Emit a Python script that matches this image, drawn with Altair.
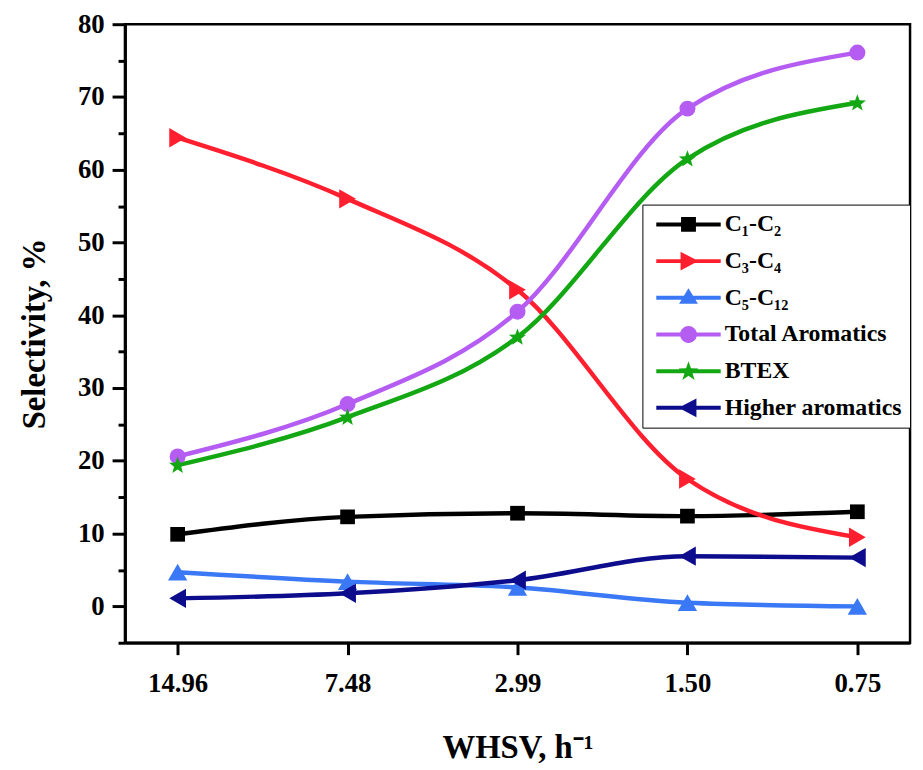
import math
import altair as alt
import pandas as pd

# ---- data ----
whsv = ["14.96", "7.48", "2.99", "1.50", "0.75"]
series_names = ["C₁-C₂", "C₃-C₄", "C₅-C₁₂", "Total Aromatics", "BTEX", "Higher aromatics"]
c1_c2 = [9.9, 12.3, 12.8, 12.4, 13.0]
c3_c4 = [64.4, 56.0, 43.5, 17.5, 9.5]
c5_c12 = [4.7, 3.4, 2.6, 0.5, 0.0]
total_arom = [20.6, 27.8, 40.5, 68.4, 76.1]
btex = [19.4, 26.0, 37.0, 61.5, 69.2]
higher_arom = [1.1, 1.8, 3.6, 6.9, 6.7]
values = [c1_c2, c3_c4, c5_c12, total_arom, btex, higher_arom]
major_ticks = list(range(0, 81, 10))
minor_ticks = list(range(-5, 80, 10))

colors = ["#000000", "#ff1f2f", "#3a78f5", "#b55cf2", "#13a813", "#0c0c8c"]

rows = []
for name, vals in zip(series_names, values):
    for w, v in zip(whsv, vals):
        rows.append({"WHSV": w, "series": name, "value": v})
df = pd.DataFrame(rows)


# ---- marker shapes ----
def orient_ok(pts):
    a = 0.0
    for i in range(len(pts)):
        x1, y1 = pts[i]
        x2, y2 = pts[(i + 1) % len(pts)]
        a += x1 * y2 - x2 * y1
    return pts if a > 0 else pts[::-1]


def poly(pts):
    pts = orient_ok(pts)
    return "M" + " L".join(f"{x:.3f},{y:.3f}" for x, y in pts) + " Z"


def star_pts(cx, cy, R, r):
    pts = []
    for k in range(10):
        ang = -math.pi / 2 + k * math.pi / 5
        rad = R if k % 2 == 0 else r
        pts.append((cx + rad * math.cos(ang), cy + rad * math.sin(ang)))
    return pts


def circle_pts(cx, cy, r, n=28):
    return [(cx + r * math.cos(2 * math.pi * k / n), cy + r * math.sin(2 * math.pi * k / n)) for k in range(n)]


star_path = poly(star_pts(0, 0.05, 1.0, 0.42))

# legend symbols: line segment + marker (unit = 10px)
L0, L1, T = -0.6, 5.9, 0.2
mc = 2.65
line_seg = poly([(L0, -T), (L1, -T), (L1, T), (L0, T)])
leg_markers = [
    poly([(mc - 0.75, -0.75), (mc + 0.75, -0.75), (mc + 0.75, 0.75), (mc - 0.75, 0.75)]),
    poly([(mc - 0.8, -0.95), (mc + 1.0, 0), (mc - 0.8, 0.95)]),
    poly([(mc, -0.95), (mc + 0.95, 0.6), (mc - 0.95, 0.6)]),
    poly(circle_pts(mc, 0, 0.85)),
    poly(star_pts(mc, 0.05, 1.05, 0.42)),
    poly([(mc + 0.8, -0.95), (mc - 1.0, 0), (mc + 0.8, 0.95)]),
]
leg_paths = [line_seg + " " + m for m in leg_markers]

plot_shapes = ["square", "triangle-right", "triangle-up", "circle", star_path, "triangle-left"]
plot_sizes = [220, 380, 380, 260, 330, 380]

FONT = "Liberation Serif"

x_enc = alt.X(
    "WHSV:N",
    sort=whsv,
    scale=alt.Scale(domain=whsv, type="point", padding=0.31),
    axis=alt.Axis(
        title="WHSV, h⁻¹",
        labelFont=FONT, labelFontSize=27, labelFontWeight="bold", labelColor="black",
        titleFont=FONT, titleFontSize=33, titleFontWeight="bold", titleColor="black",
        labelPadding=16, titlePadding=36, tickSize=12, tickWidth=3, tickColor="black",
        domainColor="black", domainWidth=3, grid=False, labelAngle=0,
    ),
)
y_enc = alt.Y(
    "value:Q",
    scale=alt.Scale(domain=[-5, 80], nice=False, zero=False),
    axis=alt.Axis(
        title="Selectivity, %", values=major_ticks,
        labelFont=FONT, labelFontSize=27, labelFontWeight="bold", labelColor="black",
        titleFont=FONT, titleFontSize=33, titleFontWeight="bold", titleColor="black",
        labelPadding=8, titlePadding=26, tickSize=13, tickWidth=3, tickColor="black",
        domainColor="black", domainWidth=3, grid=False,
    ),
)
y_minor = alt.Y(
    "value:Q",
    scale=alt.Scale(domain=[-5, 80], nice=False, zero=False),
    axis=alt.Axis(
        title=None, values=minor_ticks, orient="left", labels=False, domain=False,
        tickSize=7, tickWidth=3, tickColor="black", grid=False,
    ),
)

layers = []
for i, name in enumerate(series_names):
    base = alt.Chart(df).transform_filter(alt.datum.series == name)
    layers.append(
        base.mark_line(color=colors[i], strokeWidth=4.5, interpolate="monotone").encode(x=x_enc, y=y_enc)
    )
for i, name in enumerate(series_names):
    base = alt.Chart(df).transform_filter(alt.datum.series == name)
    layers.append(
        base.mark_point(color=colors[i], filled=True, opacity=1, shape=plot_shapes[i], size=plot_sizes[i]).encode(
            x=x_enc, y=y_enc
        )
    )

# legend-only layer (no rows), drives the legend from explicit scale domains
legend_layer = (
    alt.Chart(df)
    .transform_filter("false")
    .mark_point(filled=True, opacity=1)
    .encode(
        x=x_enc,
        y=y_enc,
        color=alt.Color(
            "series:N",
            scale=alt.Scale(domain=series_names, range=colors),
            legend=alt.Legend(
                title=None, orient="none", legendX=522, legendY=182,
                labelFont=FONT, labelFontSize=24, labelFontWeight="bold", labelColor="black",
                symbolSize=400, symbolOpacity=1, symbolStrokeWidth=0,
                labelOffset=51, rowPadding=13, padding=8,
                strokeColor="black", fillColor="white", labelLimit=400,
            ),
        ),
        shape=alt.Shape("series:N", scale=alt.Scale(domain=series_names, range=leg_paths)),
    )
)
layers.append(legend_layer)

main = alt.layer(*layers)

# minor y ticks (axis only, no rows)
minor_layer = (
    alt.Chart(df)
    .transform_filter("false")
    .mark_point(opacity=0)
    .encode(x=x_enc, y=y_minor)
)

chart = (
    alt.layer(main, minor_layer)
    .resolve_scale(y="independent")
    .properties(
        width=792,
        height=624,
        autosize=alt.AutoSizeParams(type="none"),
        padding={"left": 118, "top": 13, "right": 5, "bottom": 122},
        background="white",
    )
    .configure_view(stroke="black", strokeWidth=2.5)
)

chart.save("out.html", embed_options={"renderer": "svg", "actions": False})
